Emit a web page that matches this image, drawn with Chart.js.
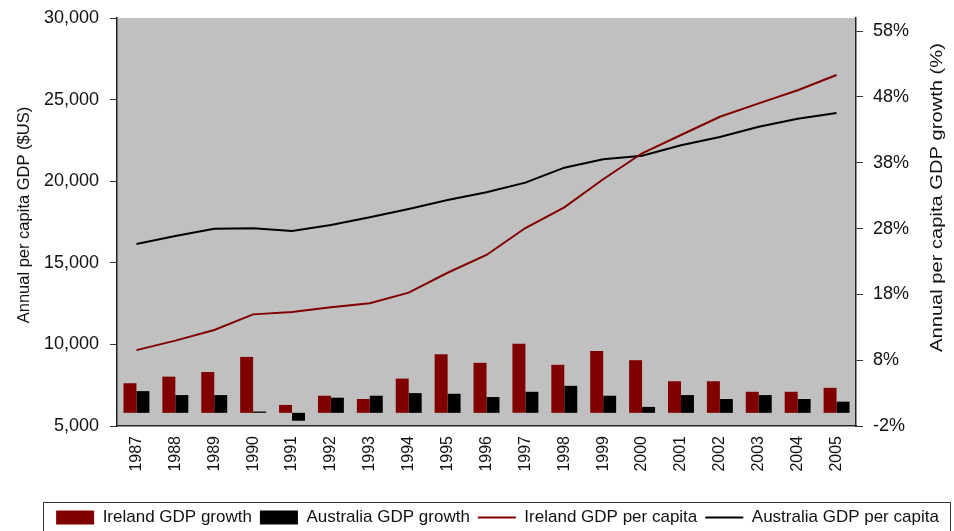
<!DOCTYPE html>
<html>
<head>
<meta charset="utf-8">
<script src="https://cdn.jsdelivr.net/npm/chart.js@4.4.1/dist/chart.umd.min.js"></script>
<style>
  html, body { margin: 0; padding: 0; background: #ffffff; }
  #wrap { width: 954px; height: 531px; position: relative; }
</style>
</head>
<body>
<div id="wrap"><canvas id="c" width="954" height="531"></canvas></div>
<script>
const years = ['1987','1988','1989','1990','1991','1992','1993','1994','1995','1996','1997','1998','1999','2000','2001','2002','2003','2004','2005'];
const irelandGrowth = [4.5, 5.5, 6.2, 8.5, 1.2, 2.6, 2.1, 5.2, 8.9, 7.6, 10.5, 7.3, 9.4, 8.0, 4.8, 4.8, 3.2, 3.2, 3.8];
const australiaGrowth = [3.3, 2.7, 2.7, 0.2, -1.2, 2.3, 2.6, 3.0, 2.9, 2.4, 3.2, 4.1, 2.6, 0.9, 2.7, 2.1, 2.7, 2.1, 1.7];
const irelandGdp = [9650, 10230, 10880, 11840, 11990, 12270, 12520, 13170, 14390, 15480, 17130, 18400, 20120, 21710, 22830, 23950, 24770, 25570, 26510];
const australiaGdp = [16150, 16640, 17090, 17110, 16950, 17320, 17790, 18300, 18850, 19320, 19910, 20830, 21340, 21560, 22200, 22710, 23340, 23830, 24180];
const leftTicks = [5000, 10000, 15000, 20000, 25000, 30000];
const rightTicks = [-2, 8, 18, 28, 38, 48, 58];
const leftTitle = 'Annual per capita GDP ($US)';
const rightTitle = 'Annual per capita GDP growth (%)';

const FONT = "'Liberation Sans', Arial, Helvetica, sans-serif";
Chart.defaults.font.family = FONT;
Chart.defaults.color = '#111';

const decor = {
  id: 'decor',
  beforeDraw(chart) {
    const {ctx, chartArea: a} = chart;
    ctx.save();
    ctx.fillStyle = '#C0C0C0';
    ctx.fillRect(a.left, a.top, a.right - a.left, a.bottom - a.top);
    ctx.restore();
  },
  afterDraw(chart) {
    const {ctx, chartArea: a} = chart;
    ctx.save();
    ctx.fillStyle = '#111';
    ctx.textAlign = 'center';
    ctx.textBaseline = 'middle';
    ctx.font = '16.5px ' + FONT;
    // left title
    ctx.save();
    ctx.translate(24, a.top + (a.bottom - a.top) * 0.483);
    ctx.rotate(-Math.PI / 2);
    ctx.fillText(leftTitle, 0, 0);
    ctx.restore();
    // right title
    ctx.save();
    ctx.translate(937, a.top + (a.bottom - a.top) * 0.44);
    ctx.rotate(-Math.PI / 2);
    ctx.scale(1.22, 1);
    ctx.fillText(rightTitle, 0, 0);
    ctx.restore();
    // legend frame
    const lg = chart.legend;
    ctx.strokeStyle = '#333';
    ctx.lineWidth = 1;
    ctx.strokeRect(43.5, lg.top + 1.5, 907, 60);
    ctx.restore();
  }
};

function fixVPad(s) { s.paddingTop = 0; s.paddingBottom = 0; }

new Chart(document.getElementById('c'), {
  type: 'bar',
  data: {
    labels: years,
    datasets: [
      { label: 'Ireland GDP growth', data: irelandGrowth, backgroundColor: '#800000', borderWidth: 0, yAxisID: 'y1', order: 2, pointStyle: 'rect', categoryPercentage: 2/3, barPercentage: 1.0 },
      { label: 'Australia GDP growth', data: australiaGrowth, backgroundColor: '#000000', borderWidth: 0, yAxisID: 'y1', order: 2, pointStyle: 'rect', categoryPercentage: 2/3, barPercentage: 1.0 },
      { type: 'line', label: 'Ireland GDP per capita', data: irelandGdp, borderColor: '#800000', backgroundColor: '#800000', borderWidth: 2, pointRadius: 0, tension: 0, yAxisID: 'y', order: 1, pointStyle: 'line' },
      { type: 'line', label: 'Australia GDP per capita', data: australiaGdp, borderColor: '#000000', backgroundColor: '#000000', borderWidth: 2, pointRadius: 0, tension: 0, yAxisID: 'y', order: 1, pointStyle: 'line' }
    ]
  },
  options: {
    responsive: false,
    animation: false,
    layout: { padding: { left: 41, right: 0, top: 18, bottom: -5 } },
    plugins: {
      tooltip: { enabled: false },
      legend: {
        position: 'bottom',
        labels: {
          usePointStyle: true,
          pointStyleWidth: 38,
          boxHeight: 14,
          padding: 8,
          color: '#111',
          font: { size: 17 },
          sort: (a, b) => a.datasetIndex - b.datasetIndex
        }
      }
    },
    scales: {
      x: {
        offset: true,
        grid: { display: false },
        border: { display: true, color: '#222', width: 1.5 },
        ticks: { maxRotation: 90, minRotation: 90, padding: 2, color: '#111', font: { size: 16 } },
        afterFit(s) { s.height = 75; }
      },
      y: {
        position: 'left',
        min: 5000, max: 30000,
        afterBuildTicks(s) { s.ticks = leftTicks.map(v => ({ value: v })); },
        grid: { drawOnChartArea: false, drawTicks: true, tickLength: 7, color: '#333' },
        border: { display: true, color: '#222', width: 1.5 },
        ticks: { padding: 11, color: '#111', font: { size: 18 }, callback: v => v.toLocaleString('en-US') },
        afterFit(s) { s.width = 76; fixVPad(s); }
      },
      y1: {
        position: 'right',
        min: -2, max: 60,
        afterBuildTicks(s) { s.ticks = rightTicks.map(v => ({ value: v })); },
        grid: { drawOnChartArea: false, drawTicks: true, tickLength: 7, color: '#333' },
        border: { display: true, color: '#222', width: 1.5 },
        ticks: { padding: 10, color: '#111', font: { size: 18 }, callback: v => v + '%' },
        afterFit(s) { s.width = 98; fixVPad(s); }
      }
    }
  },
  plugins: [decor]
});
</script>
</body>
</html>
